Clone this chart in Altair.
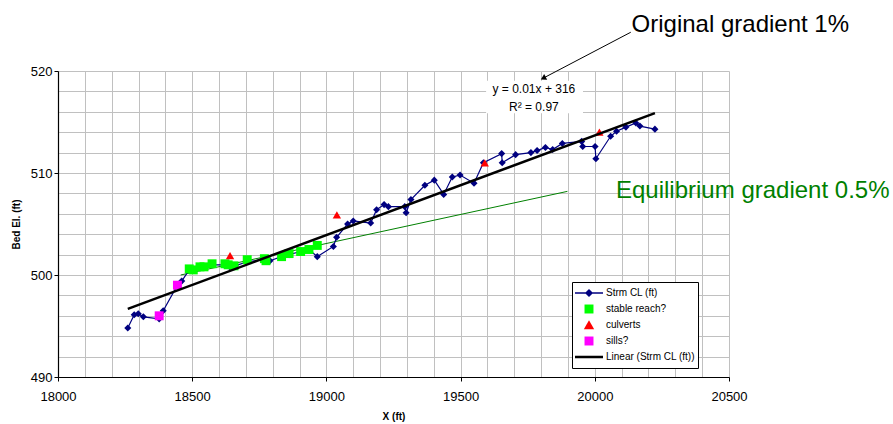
import altair as alt
import pandas as pd

FONT = "Liberation Sans"

# ---- data ----
strm_x = [18260, 18284, 18299, 18318, 18377, 18392, 18445, 18461, 18489, 18504,
          18529, 18544, 18574, 18622, 18640, 18660, 18705, 18769, 18790, 18833,
          18861, 18904, 18935, 18966, 19026, 19038, 19079, 19100, 19165, 19187,
          19215, 19231, 19292, 19297, 19315, 19367, 19402, 19437, 19469, 19498,
          19550, 19585, 19653, 19655, 19705, 19762, 19785, 19816, 19843, 19879,
          19951, 19955, 20001, 20004, 20059, 20081, 20116, 20153, 20168, 20224]
strm_y = [494.8, 496.1, 496.2, 495.9, 495.7, 496.5, 499.0, 499.4, 500.5, 500.5,
          500.7, 500.8, 501.0, 501.0, 500.8, 500.9, 501.3, 501.5, 501.4, 501.8,
          502.0, 502.3, 502.5, 501.8, 502.8, 503.7, 505.0, 505.3, 505.1, 506.4,
          506.9, 506.7, 506.7, 506.1, 507.4, 508.8, 509.3, 507.9, 509.6, 509.8,
          509.0, 511.0, 511.9, 511.0, 511.8, 512.0, 512.2, 512.5, 512.3, 512.9,
          513.1, 512.6, 512.6, 511.4, 513.6, 514.1, 514.5, 514.9, 514.6, 514.3]

stable_x = [18489, 18504, 18529, 18544, 18574, 18622, 18634, 18656, 18705, 18769,
            18775, 18833, 18861, 18904, 18935, 18966]
stable_y = [500.6, 500.5, 500.8, 500.8, 501.1, 501.1, 501.0, 500.9, 501.5, 501.6,
            501.4, 501.8, 502.1, 502.3, 502.5, 502.9]

culvert_x = [18641, 19039, 19590, 20017]
culvert_y = [501.9, 505.9, 511.0, 514.0]

sill_x = [18377, 18445]
sill_y = [496.0, 499.0]

equil_x = [18457, 19898]
equil_y = [500.0, 508.2]

legend_labels = ["Strm CL (ft)", "stable reach?", "culverts", "sills?", "Linear (Strm CL (ft))"]
legend_colors = ["#000080", "#00ff00", "#ff0000", "#ff00ff", "#000000"]
legend_shapes = [
    "M-1,-0.045H1V0.045H-1ZM0,-0.29L0.29,0L0,0.29L-0.29,0Z",
    "M-0.32,-0.32H0.32V0.32H-0.32Z",
    "M0,-0.34L0.37,0.3H-0.37Z",
    "M-0.32,-0.32H0.32V0.32H-0.32Z",
    "M-1,-0.09H1V0.09H-1Z",
]

x_ticks = list(range(18000, 20501, 100))
y_ticks = list(range(490, 521, 2))

# annotations
eq_text = ["y = 0.01x + 316", "R\u00b2 = 0.97"]
eq_text_x = [19773, 19773]
eq_text_y = [518.2, 516.5]
eq_box_x = [19595]
eq_box_x2 = [19956]
eq_box_y = [515.85]
eq_box_y2 = [519.05]

orig_text = ["Original gradient 1%"]
orig_text_x = [20137]
orig_text_y = [523.85]
arrow_x = [20134]
arrow_y = [523.8]
arrow_x2 = [19808]
arrow_y2 = [519.3]

equil_text = ["Equilibrium gradient 0.5%"]
equil_text_x = [20079]
equil_text_y = [507.58]

# ---- tables ----
strm = pd.DataFrame({"x": strm_x, "y": strm_y, "i": list(range(len(strm_x)))})
stable = pd.DataFrame({"x": stable_x, "y": stable_y})
culv = pd.DataFrame({"x": culvert_x, "y": culvert_y})
sills = pd.DataFrame({"x": sill_x, "y": sill_y})
equil = pd.DataFrame({"x": equil_x, "y": equil_y})
eqt = pd.DataFrame({"x": eq_text_x, "y": eq_text_y, "t": eq_text})
eqbox = pd.DataFrame({"x": eq_box_x, "x2": eq_box_x2, "y": eq_box_y, "y2": eq_box_y2})
origt = pd.DataFrame({"x": orig_text_x, "y": orig_text_y, "t": orig_text})
arrow = pd.DataFrame({"x": arrow_x, "y": arrow_y, "x2": arrow_x2, "y2": arrow_y2})
equilt = pd.DataFrame({"x": equil_text_x, "y": equil_text_y, "t": equil_text})
leg = pd.DataFrame({"series": legend_labels})

xscale = alt.Scale(domain=[18000, 20500], nice=False, zero=False)
yscale = alt.Scale(domain=[490, 520], nice=False, zero=False)

x_axis = alt.Axis(
    values=x_ticks, format="d", title="X (ft)",
    labelExpr="datum.value % 500 === 0 ? datum.label : ''",
    tickOpacity={"condition": {"test": "datum.value % 500 === 0", "value": 1}, "value": 0},
    tickSize=4, tickColor="black", domainColor="black", domainWidth=1.2,
    labelPadding=9, titlePadding=8, labelFlush=False, labelOverlap=False,
    grid=True, gridColor="#c0c0c0", gridWidth=1,
    labelFont=FONT, labelFontSize=13, labelColor="black",
    titleFont=FONT, titleFontSize=10, titleFontWeight="bold", titleColor="black",
)
y_axis = alt.Axis(
    values=y_ticks, format="d", title="Bed El. (ft)",
    labelExpr="datum.value % 10 === 0 ? datum.label : ''",
    tickOpacity={"condition": {"test": "datum.value % 10 === 0", "value": 1}, "value": 0},
    tickSize=4, tickColor="black", domainColor="black", domainWidth=1.2,
    labelPadding=2, titlePadding=9, labelOverlap=False,
    grid=True, gridColor="#c0c0c0", gridWidth=1,
    labelFont=FONT, labelFontSize=13, labelColor="black",
    titleFont=FONT, titleFontSize=10, titleFontWeight="bold", titleColor="black",
)


def X(field="x"):
    return alt.X(f"{field}:Q", scale=xscale, axis=x_axis)


def Y(field="y"):
    return alt.Y(f"{field}:Q", scale=yscale, axis=y_axis)


eq_line = alt.Chart(equil).mark_line(color="#008000", strokeWidth=1).encode(x=X(), y=Y())

strm_line = alt.Chart(strm).mark_line(color="#000080", strokeWidth=1.2).encode(
    x=X(), y=Y(), order="i:Q")
strm_pts = alt.Chart(strm).mark_point(shape="diamond", filled=True, size=50,
                                      color="#000080", opacity=1).encode(x=X(), y=Y())

stable_pts = alt.Chart(stable).mark_point(shape="square", filled=True, size=80,
                                          color="#00ff00", opacity=1).encode(x=X(), y=Y())
culv_pts = alt.Chart(culv).mark_point(shape="triangle-up", filled=True, size=70,
                                      color="#ff0000", opacity=1).encode(x=X(), y=Y())
sill_pts = alt.Chart(sills).mark_point(shape="square", filled=True, size=80,
                                       color="#ff00ff", opacity=1).encode(x=X(), y=Y())

trend = alt.Chart(strm).transform_regression("x", "y").mark_line(
    color="black", strokeWidth=2.5).encode(x=X(), y=Y())

box = alt.Chart(eqbox).mark_rect(color="white").encode(x=X(), x2="x2:Q", y=Y(), y2="y2:Q")
eq_txt = alt.Chart(eqt).mark_text(font=FONT, fontSize=12, color="black",
                                  align="center", baseline="middle").encode(x=X(), y=Y(), text="t:N")

arrow_line = alt.Chart(arrow).mark_rule(color="black", strokeWidth=1).encode(
    x=X(), y=Y(), x2="x2:Q", y2="y2:Q")
arrow_head = alt.Chart(arrow).mark_point(shape="triangle-up", filled=True, size=40,
                                         angle=242, color="black", opacity=1).encode(
    x=X("x2"), y=Y("y2"))
orig_txt = alt.Chart(origt).mark_text(font=FONT, fontSize=24, color="black",
                                      align="left", baseline="alphabetic").encode(
    x=X(), y=Y(), text="t:N")
equil_txt = alt.Chart(equilt).mark_text(font=FONT, fontSize=24, color="#008000",
                                        align="left", baseline="alphabetic").encode(
    x=X(), y=Y(), text="t:N")

legend_def = alt.Legend(
    title=None, orient="none", legendX=514, legendY=211, padding=3,
    fillColor="white", strokeColor="black", cornerRadius=0,
    labelFont=FONT, labelFontSize=10, labelColor="black", labelOffset=3,
    symbolSize=784, clipHeight=16, rowPadding=0, symbolStrokeWidth=0,
)
legend_layer = alt.Chart(leg).transform_filter("false").mark_point(
    filled=True, size=784, opacity=1, strokeWidth=0).encode(
    fill=alt.Fill("series:N", scale=alt.Scale(domain=legend_labels, range=legend_colors),
                  legend=legend_def),
    shape=alt.Shape("series:N", scale=alt.Scale(domain=legend_labels, range=legend_shapes),
                    legend=legend_def),
)

chart = alt.layer(
    eq_line, strm_line, strm_pts, stable_pts, culv_pts, sill_pts, trend,
    box, eq_txt, arrow_line, arrow_head, orig_txt, equil_txt, legend_layer,
).properties(
    width=671, height=306,
    padding={"left": 58, "top": 71, "right": 164, "bottom": 47},
    autosize=alt.AutoSizeParams(type="none"),
    background="white",
).configure_view(stroke="transparent")

chart.save("out.html", embed_options={"renderer": "svg", "actions": False})
